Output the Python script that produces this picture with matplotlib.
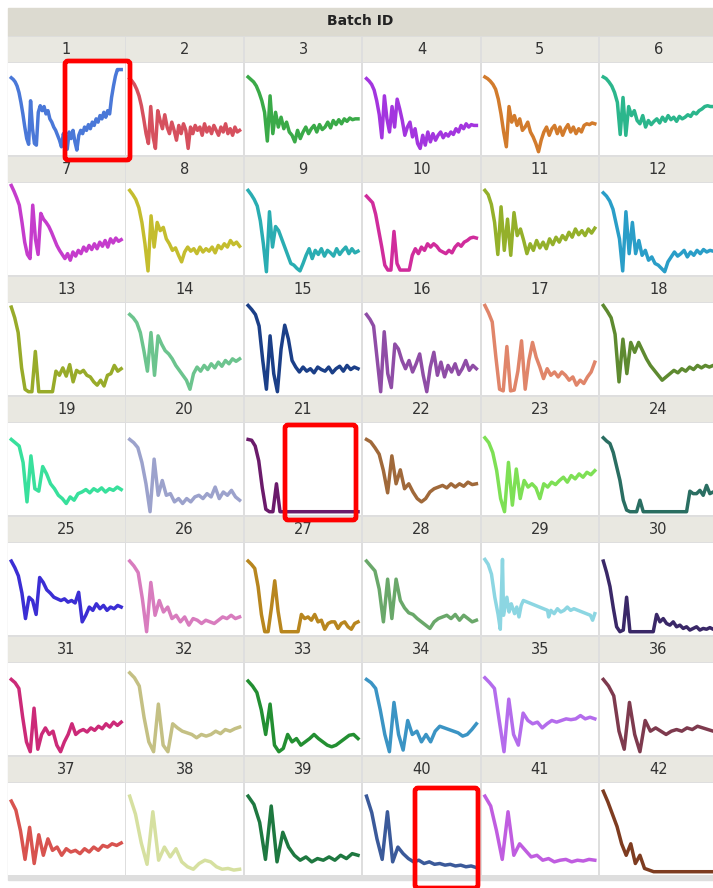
import numpy as np
import matplotlib.pyplot as plt
from matplotlib.patches import Rectangle, FancyBboxPatch

W, H = 713, 888

batch_ids = list(range(1, 43))

# values (0 = panel floor, 100 = near panel top)
batch_01 = [90, 88, 85, 80, 72, 60, 46, 30, 16, 9, 62, 28, 10, 8, 48, 56, 50, 55, 46, 50, 40, 36, 30, 26, 20, 14, 6, 22, 12, 3,
            24, 16, 26, 12, 2, 20, 26, 22, 30, 26, 33, 28, 36, 32, 40, 36, 44, 40, 48, 42, 50, 46, 66, 80, 92, 100, 100, 100]
batch_02 = [89, 86, 82, 76, 68, 56, 40, 22, 10, 55, 18, 4, 50, 38, 28, 45, 30, 22, 36, 26, 14, 32, 22, 34, 26, 4, 30, 22,
            32, 26, 30, 20, 34, 24, 30, 22, 32, 26, 20, 30, 24, 34, 22, 28, 20, 30, 24, 26]
batch_03 = [91, 88, 85, 80, 72, 62, 48, 13, 68, 22, 48, 30, 42, 28, 36, 24, 20, 12, 26, 16, 24, 30, 22, 28, 32, 24, 33, 27,
            30, 36, 29, 38, 33, 39, 34, 40, 37, 41, 39, 40, 40]
batch_04 = [89, 86, 82, 75, 62, 45, 17, 68, 40, 24, 55, 30, 64, 52, 38, 20, 30, 36, 18, 28, 10, 4, 20, 8, 24, 12, 22, 14,
            20, 24, 17, 22, 19, 24, 21, 28, 24, 32, 28, 34, 30, 33, 32, 32]
batch_05 = [91, 89, 86, 82, 76, 64, 46, 24, 6, 55, 36, 44, 32, 40, 26, 30, 36, 24, 18, 10, 0, 14, 24, 30, 20, 28, 32, 22,
            30, 20, 28, 33, 24, 30, 22, 28, 24, 32, 34, 33, 35, 34]
batch_06 = [91, 89, 85, 80, 72, 60, 21, 66, 20, 55, 44, 50, 38, 34, 44, 30, 38, 33, 37, 40, 35, 42, 37, 44, 39, 42, 37, 43,
            40, 42, 45, 43, 48, 46, 50, 52, 55, 56, 55, 55]
batch_07 = [105, 98, 90, 81, 60, 36, 21, 16, 81, 40, 21, 71, 64, 60, 55, 48, 40, 32, 26, 21, 16, 22, 14, 24, 19, 26, 22,
            30, 25, 32, 27, 34, 28, 36, 31, 38, 30, 40, 35, 41, 37, 39]
batch_08 = [99, 94, 88, 78, 60, 34, 1, 68, 30, 60, 50, 54, 40, 34, 26, 29, 20, 12, 24, 30, 25, 28, 22, 30, 24, 28, 25, 30,
            23, 32, 28, 34, 30, 38, 33, 36, 31]
batch_09 = [99, 94, 88, 80, 62, 34, 0, 73, 30, 55, 50, 40, 30, 20, 10, 8, 4, 1, 10, 20, 28, 16, 26, 21, 28, 19, 26, 23,
            19, 28, 21, 26, 30, 22, 28, 23, 25]
batch_10 = [92, 88, 84, 70, 50, 30, 8, 2, 2, 49, 10, 2, 2, 2, 2, 20, 28, 22, 30, 26, 34, 30, 34, 31, 26, 24, 22, 26, 23,
            30, 34, 31, 36, 38, 41, 42, 41]
batch_11 = [99, 94, 82, 60, 21, 79, 26, 64, 20, 72, 44, 52, 38, 22, 34, 26, 38, 29, 36, 28, 40, 33, 42, 36, 44, 39, 48,
            42, 52, 45, 50, 44, 52, 47, 53]
batch_12 = [96, 92, 86, 76, 58, 40, 1, 73, 22, 60, 22, 38, 20, 26, 14, 18, 10, 8, 4, 0, 12, 18, 24, 19, 22, 26, 18, 24,
            20, 26, 22, 27, 24, 26, 25]
batch_13 = [103, 90, 72, 29, 3, 0, 0, 49, 0, 0, 0, 0, 0, 25, 20, 29, 19, 33, 12, 26, 23, 26, 20, 18, 12, 8, 14, 7, 20,
            22, 32, 25, 28]
batch_14 = [94, 90, 84, 72, 50, 25, 72, 20, 68, 58, 50, 46, 40, 32, 26, 20, 14, 3, 22, 30, 25, 32, 27, 34, 29, 36, 31,
            38, 34, 40, 37, 40]
batch_15 = [105, 100, 94, 80, 38, 3, 68, 22, 0, 52, 81, 64, 38, 30, 24, 30, 25, 28, 23, 30, 27, 25, 30, 23, 28, 31, 25,
            32, 27, 30, 28]
batch_16 = [94, 88, 80, 40, 0, 73, 22, 5, 58, 52, 38, 28, 38, 24, 34, 46, 20, 0, 30, 48, 20, 36, 18, 32, 24, 34, 21, 28,
            38, 26, 32, 28]
batch_17 = [105, 96, 85, 42, 3, 1, 55, 1, 2, 25, 62, 3, 38, 60, 42, 30, 16, 28, 20, 24, 18, 24, 20, 14, 18, 8, 14, 10,
            18, 24, 36]
batch_18 = [105, 98, 90, 70, 12, 64, 22, 60, 48, 60, 50, 40, 32, 26, 20, 14, 18, 22, 26, 23, 28, 25, 30, 27, 32, 29, 32,
            30, 32]
batch_19 = [88, 84, 80, 60, 12, 68, 28, 25, 55, 46, 34, 28, 20, 16, 10, 18, 14, 22, 24, 27, 23, 28, 25, 29, 24, 28, 26,
            30, 27]
batch_20 = [88, 84, 78, 60, 34, 0, 64, 20, 38, 20, 22, 12, 16, 10, 16, 12, 18, 20, 16, 22, 18, 30, 16, 24, 20, 26, 18, 14]
batch_21 = [88, 87, 80, 62, 29, 3, 0, 0, 34, 0, 0, 0, 0, 0, 0, 0, 0, 0, 0, 0, 0, 0, 0, 0, 0, 0, 0, 0, 0, 0, 0, 0]
batch_22 = [88, 85, 78, 70, 50, 23, 68, 34, 51, 28, 34, 24, 16, 12, 16, 24, 28, 30, 32, 29, 34, 30, 34, 31, 36, 33, 34]
batch_23 = [90, 84, 72, 50, 16, 0, 60, 8, 52, 16, 38, 30, 34, 29, 16, 34, 30, 36, 33, 38, 42, 36, 44, 40, 46, 42, 48, 45, 50]
batch_24 = [90, 86, 83, 72, 55, 38, 14, 2, 0, 0, 0, 14, 0, 0, 0, 0, 0, 0, 0, 0, 0, 0, 0, 0, 0, 0,
            25, 22, 22, 26, 20, 32, 22, 24]
batch_25 = [86, 78, 68, 47, 16, 42, 38, 21, 66, 60, 51, 47, 42, 40, 38, 40, 36, 38, 35, 48, 12, 20, 30, 26, 34, 28, 32,
            26, 30, 28, 32, 30]
batch_26 = [86, 80, 72, 40, 0, 60, 20, 38, 24, 30, 16, 20, 12, 18, 8, 16, 14, 10, 14, 12, 10, 14, 18, 16, 20, 16, 18]
batch_27 = [86, 82, 77, 55, 21, 0, 0, 29, 62, 25, 0, 0, 0, 0, 0, 0, 21, 16, 18, 14, 21, 12, 14, 3, 10, 12, 12, 4, 10, 12,
            6, 3, 10, 12]
batch_28 = [86, 80, 74, 52, 12, 64, 16, 64, 38, 29, 23, 21, 16, 12, 8, 4, 12, 16, 18, 20, 16, 21, 14, 20, 16, 12, 14]
batch_29_t = [0, 3, 6, 9, 12, 14, 16, 17, 20, 22, 24, 27, 29, 31, 33, 35, 57, 58, 60, 63, 66, 69, 72, 75, 78, 81, 96, 98, 100]
batch_29 = [88, 82, 70, 42, 21, 3, 88, 20, 42, 24, 34, 22, 30, 18, 32, 38, 26, 18, 26, 22, 28, 24, 26, 30, 26, 28, 20, 14, 22]
batch_30 = [86, 72, 55, 29, 6, 0, 2, 42, 0, 0, 0, 0, 0, 0, 0, 0, 21, 12, 16, 10, 8, 12, 6, 8, 4, 6, 2, 4, 6, 2, 4, 3, 5, 3]
batch_31 = [88, 84, 77, 42, 12, 0, 53, 3, 21, 29, 21, 25, 8, 0, 12, 21, 34, 21, 25, 27, 24, 29, 26, 31, 28, 34, 30, 36, 32, 36]
batch_32 = [96, 90, 80, 42, 12, 0, 58, 8, 0, 34, 29, 25, 23, 21, 17, 21, 19, 21, 25, 22, 27, 25, 28, 30]
batch_33 = [86, 80, 72, 51, 21, 58, 8, 0, 4, 21, 12, 16, 8, 12, 16, 21, 16, 12, 8, 6, 8, 12, 16, 20, 21, 16]
batch_34 = [88, 84, 77, 51, 21, 0, 60, 21, 2, 38, 21, 25, 12, 21, 12, 25, 31, 29, 27, 25, 23, 19, 21, 27, 34]
batch_35 = [90, 84, 77, 38, 0, 64, 21, 8, 47, 38, 34, 36, 29, 34, 38, 36, 38, 40, 39, 40, 44, 40, 42, 40]
batch_36 = [88, 80, 68, 25, 3, 60, 21, 0, 38, 25, 29, 25, 21, 25, 27, 25, 29, 27, 31, 29, 27, 25]
batch_37 = [86, 75, 50, 15, 54, 10, 45, 20, 40, 26, 30, 20, 28, 24, 26, 22, 28, 24, 30, 26, 32, 30, 34, 32, 35]
batch_38 = [92, 70, 35, 9, 73, 14, 30, 18, 28, 12, 6, 3, 10, 14, 12, 6, 3, 4, 2, 3]
batch_39 = [92, 82, 60, 15, 80, 12, 48, 30, 20, 14, 18, 12, 16, 14, 18, 14, 20, 16, 22, 20]
batch_40 = [92, 72, 40, 15, 73, 12, 30, 22, 16, 12, 14, 10, 12, 9, 10, 8, 9, 7, 8, 6, 7, 5]
batch_41 = [92, 80, 50, 15, 73, 20, 34, 26, 18, 20, 14, 16, 12, 14, 15, 12, 14, 13, 15, 14]
batch_42 = [98, 85, 70, 55, 34, 20, 34, 10, 20, 4, 2, 0, 0, 0, 0, 0, 0, 0, 0, 0, 0, 0, 0, 0, 0]

series = [batch_01, batch_02, batch_03, batch_04, batch_05, batch_06, batch_07, batch_08, batch_09, batch_10,
          batch_11, batch_12, batch_13, batch_14, batch_15, batch_16, batch_17, batch_18, batch_19, batch_20,
          batch_21, batch_22, batch_23, batch_24, batch_25, batch_26, batch_27, batch_28, batch_29, batch_30,
          batch_31, batch_32, batch_33, batch_34, batch_35, batch_36, batch_37, batch_38, batch_39, batch_40,
          batch_41, batch_42]

colors = ['#4a78d8', '#d6505e', '#3aaa48', '#a335df', '#d27b2c', '#2bb68c',
          '#c53ccc', '#c4bd2e', '#2aadb2', '#d02c9c', '#94b02a', '#2a9ec8',
          '#98ab2a', '#6cc48e', '#1b3f88', '#8f4da6', '#e0856a', '#5e8a30',
          '#38e09c', '#9ca2cc', '#6b1b6b', '#a0693a', '#7ee055', '#2a6e62',
          '#3b2ed4', '#d87cbe', '#b8861e', '#6aa86a', '#8cd6e2', '#3a2868',
          '#cc2a78', '#c4c084', '#238f32', '#3b94c4', '#b46cec', '#7e3a4e',
          '#d8534f', '#d6e0a0', '#1e7840', '#3b5a9a', '#c05de0', '#7e3c20']


def px(x0, y0, w, h):
    return [x0 / W, 1 - (y0 + h) / H, w / W, h / H]


fig = plt.figure(figsize=(W / 100, H / 100), dpi=100)
fig.patch.set_facecolor('white')

# grid background and header band sit on a bottom axes
bg = fig.add_axes([0, 0, 1, 1], zorder=-5)
bg.set_xlim(0, W)
bg.set_ylim(H, 0)
bg.axis('off')
bg.add_patch(Rectangle((8, 35), W - 8, 845, color='#dedede'))
bg.add_patch(Rectangle((8, 8), W - 8, 27, color='#dcdad0'))
bg.text((8 + W) / 2, 21, 'Batch ID', ha='center', va='center',
        fontsize=10, fontweight='bold', color='#222222')

for i, vals in enumerate(series):
    r, c = divmod(i, 6)
    left = 8 + c * 118.4
    top = 37 + r * 120
    # strip
    sax = fig.add_axes(px(left, top, 116.5, 25))
    sax.set_facecolor('#e9e8e1')
    sax.set_xticks([])
    sax.set_yticks([])
    for s in sax.spines.values():
        s.set_visible(False)
    sax.text(0.5, 0.5, str(batch_ids[i]), ha='center', va='center', fontsize=10.5,
             color='#333333', transform=sax.transAxes)
    # panel
    ax = fig.add_axes(px(left, top + 26, 116.5, 92))
    ax.set_facecolor('white')
    if batch_ids[i] == 29:
        t = np.array(batch_29_t) / 100
    else:
        t = np.linspace(0, 1, len(vals))
    ax.plot(t, vals, color=colors[i], lw=2.5, solid_joinstyle='round')
    ax.set_xlim(-0.03, 1.03)
    ax.set_ylim(-4, 108)
    ax.set_xticks([])
    ax.set_yticks([])
    for s in ax.spines.values():
        s.set_visible(False)

# red highlight boxes drawn on a pixel overlay
ov = fig.add_axes([0, 0, 1, 1], zorder=10)
ov.set_xlim(0, W)
ov.set_ylim(H, 0)
ov.axis('off')
boxes = [(65, 61, 65, 99), (285, 425, 71, 95), (415, 788, 63, 100)]
for x0, y0, w, h in boxes:
    ov.add_patch(FancyBboxPatch((x0, y0), w, h, boxstyle='round,pad=0,rounding_size=3',
                                fill=False, ec='#ff0000', lw=3.4))

fig.savefig('out.png', dpi=100)
